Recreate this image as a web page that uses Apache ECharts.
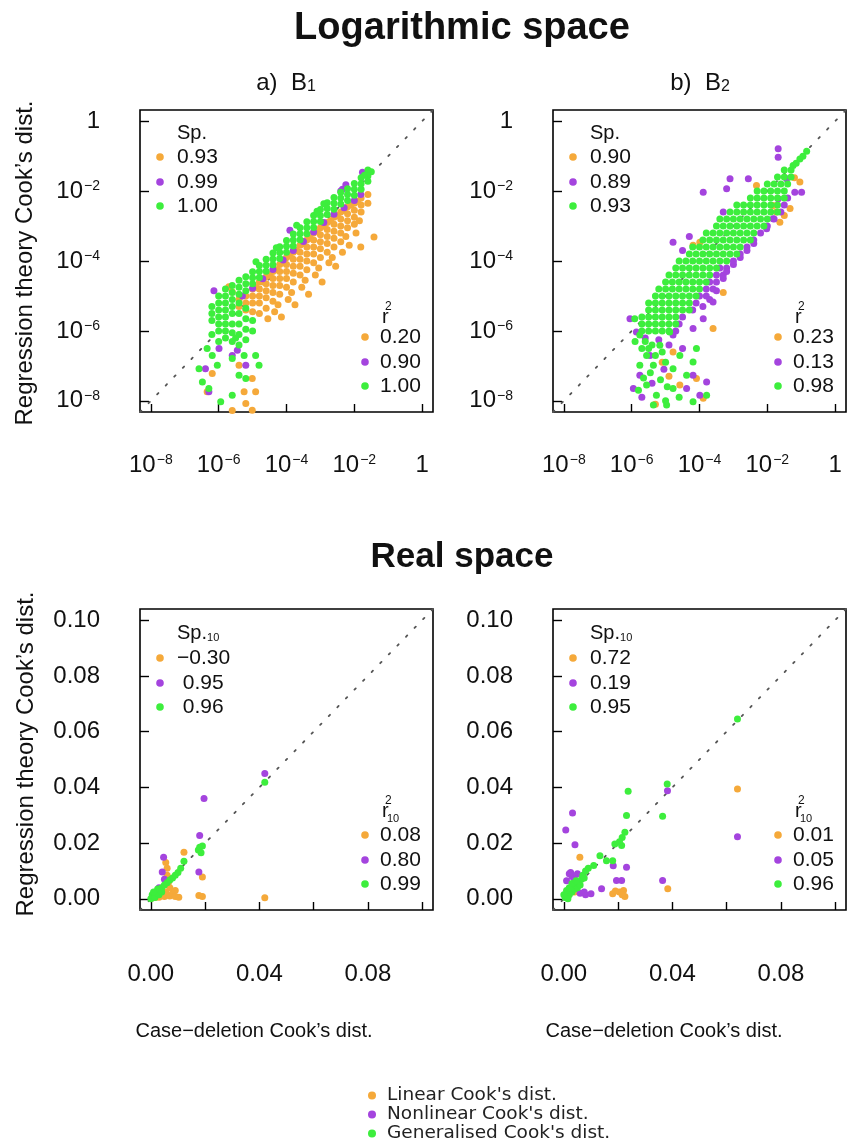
<!DOCTYPE html>
<html>
<head>
<meta charset="utf-8">
<script src="https://cdn.jsdelivr.net/npm/echarts@6/dist/echarts.min.js"></script>
<style>
html,body{margin:0;padding:0;background:#fff;}
#chart{width:849px;height:1148px;}
</style>
</head>
<body>
<div id="chart"></div>
<script>
// ---------------- DATA (log panels: log10 of Cook's distance; real panels: Cook's distance) ----------------
const seriesNames = ["Linear Cook's dist.", "Nonlinear Cook's dist.", "Generalised Cook's dist."];
const logTickValues = [-8, -6, -4, -2, 0];
const realTickValuesY = [0, 0.02, 0.04, 0.06, 0.08, 0.10];
const realTickValuesX = [0, 0.02, 0.04, 0.06, 0.08, 0.10];
const realLabelValuesX = [0, 0.04, 0.08];
const logRange = [-8.32, 0.32];
const realRange = [-0.004, 0.104];

const spB1Log = [0.93, 0.99, 1.00];
const r2B1Log = [0.20, 0.90, 1.00];
const spB2Log = [0.90, 0.89, 0.93];
const r2B2Log = [0.23, 0.13, 0.98];
const spB1Real = [-0.30, 0.95, 0.96];
const r2B1Real = [0.08, 0.80, 0.99];
const spB2Real = [0.72, 0.19, 0.95];
const r2B2Real = [0.01, 0.05, 0.96];

// Panel a) B1, logarithmic space  [case-deletion, regression theory]
const B1LogLinear = [
 [-5.4,-5.1],[-5.4,-5.3],
 [-5.2,-5.0],[-5.2,-5.2],[-5.2,-5.4],
 [-5.0,-4.8],[-5.0,-5.0],[-5.0,-5.2],[-5.0,-5.45],
 [-4.8,-4.6],[-4.8,-4.8],[-4.8,-5.0],[-4.8,-5.2],[-4.8,-5.5],
 [-4.6,-4.45],[-4.6,-4.65],[-4.6,-4.85],[-4.6,-5.05],[-4.6,-5.35],[-4.55,-5.65],
 [-4.4,-4.3],[-4.4,-4.5],[-4.4,-4.7],[-4.4,-4.9],[-4.4,-5.15],[-4.35,-5.45],
 [-4.2,-4.1],[-4.2,-4.3],[-4.2,-4.5],[-4.2,-4.7],[-4.2,-4.95],[-4.25,-5.25],[-4.15,-5.6],
 [-4.0,-3.9],[-4.0,-4.1],[-4.0,-4.3],[-4.0,-4.5],[-4.0,-4.75],[-3.95,-5.1],
 [-3.8,-3.75],[-3.8,-3.95],[-3.8,-4.15],[-3.8,-4.35],[-3.8,-4.6],[-3.85,-4.9],[-3.75,-5.25],
 [-3.6,-3.55],[-3.6,-3.75],[-3.6,-3.95],[-3.6,-4.15],[-3.6,-4.4],[-3.55,-4.75],
 [-3.4,-3.4],[-3.4,-3.6],[-3.4,-3.8],[-3.4,-4.0],[-3.4,-4.25],[-3.45,-4.55],[-3.35,-4.95],
 [-3.2,-3.2],[-3.2,-3.4],[-3.2,-3.6],[-3.2,-3.8],[-3.2,-4.05],[-3.15,-4.4],
 [-3.0,-3.05],[-3.0,-3.25],[-3.0,-3.45],[-3.0,-3.65],[-3.0,-3.9],[-3.05,-4.2],[-2.95,-4.6],
 [-2.8,-2.9],[-2.8,-3.1],[-2.8,-3.3],[-2.8,-3.5],[-2.8,-3.75],[-2.75,-4.05],
 [-2.6,-2.75],[-2.6,-2.95],[-2.6,-3.15],[-2.6,-3.35],[-2.6,-3.6],[-2.65,-3.9],[-2.55,-4.15],
 [-2.4,-2.6],[-2.4,-2.8],[-2.4,-3.0],[-2.4,-3.2],[-2.4,-3.45],[-2.35,-3.75],
 [-2.2,-2.45],[-2.2,-2.65],[-2.2,-2.85],[-2.2,-3.05],[-2.25,-3.3],[-2.15,-3.55],
 [-2.0,-2.35],[-2.0,-2.55],[-2.0,-2.75],[-2.0,-2.95],[-1.95,-3.2],
 [-1.8,-2.2],[-1.8,-2.4],[-1.8,-2.6],[-1.85,-2.85],
 [-1.6,-2.1],[-1.6,-2.35],
 [-4.9,-4.75],[-4.5,-4.4],[-4.1,-4.05],[-3.7,-3.7],[-3.3,-3.35],[-2.9,-3.0],[-2.5,-2.7],[-2.1,-2.4],
 [-4.7,-4.6],[-4.3,-4.25],[-3.9,-3.85],[-3.5,-3.5],[-3.1,-3.15],[-2.7,-2.85],[-2.3,-2.55],[-1.9,-2.3],
 [-1.42,-3.31],[-1.81,-3.60],[-5.60,-4.89],[-5.70,-4.74],
 [-5.25,-7.74],[-5.01,-8.27],[-4.91,-7.74],[-5.60,-8.28],[-5.20,-8.08],[-6.19,-7.22],[-6.34,-7.74],[-5.01,-7.36],[-5.40,-6.98]
];
const B1LogNonlinear = [
 [-2.35,-1.95],[-1.76,-1.46],[-1.81,-2.10],[-2.25,-1.82],[-2.40,-2.00],[-3.90,-3.12],
 [-2.0,-2.27],[-2.3,-2.48],[-2.6,-2.66],[-2.9,-2.9],[-3.2,-3.17],[-3.5,-3.44],[-3.8,-3.7],[-4.1,-3.97],
 [-4.4,-4.24],[-4.7,-4.51],[-5.0,-4.78],[-5.3,-5.0],
 [-6.29,-7.74],[-6.39,-7.08],[-5.99,-6.50],[-5.60,-6.70],[-5.20,-6.98],[-6.14,-4.85],[-5.45,-6.55]
];
const B1LogGeneralised = [
 [-1.5,-1.45],[-1.6,-1.4],[-1.6,-1.57],[-1.6,-1.72],
 [-1.7,-1.55],[-1.8,-1.62],[-1.8,-1.79],[-1.8,-1.95],
 [-2.0,-1.78],[-2.0,-1.95],[-2.0,-2.12],
 [-2.2,-1.93],[-2.2,-2.1],[-2.2,-2.27],
 [-2.4,-2.03],[-2.4,-2.2],[-2.4,-2.37],
 [-2.6,-2.18],[-2.6,-2.35],[-2.6,-2.52],
 [-2.8,-2.33],[-2.8,-2.5],[-2.8,-2.67],
 [-3.0,-2.53],[-3.0,-2.7],[-3.0,-2.87],
 [-3.2,-2.7],[-3.2,-2.87],[-3.2,-3.04],
 [-3.4,-2.88],[-3.4,-3.05],[-3.4,-3.22],
 [-3.6,-3.05],[-3.6,-3.22],[-3.6,-3.39],
 [-3.8,-3.23],[-3.8,-3.4],[-3.8,-3.57],
 [-4.0,-3.41],[-4.0,-3.58],[-4.0,-3.75],
 [-4.2,-3.59],[-4.2,-3.76],[-4.2,-3.93],
 [-4.4,-3.77],[-4.4,-3.94],[-4.4,-4.11],
 [-4.6,-3.95],[-4.6,-4.12],[-4.6,-4.29],
 [-4.8,-4.13],[-4.8,-4.3],[-4.8,-4.47],
 [-5.0,-4.31],[-5.0,-4.48],[-5.0,-4.65],
 [-5.2,-4.45],[-5.2,-4.65],[-5.2,-4.85],
 [-5.4,-4.55],[-5.4,-4.75],[-5.4,-4.95],[-5.4,-5.2],
 [-3.7,-2.98],[-4.9,-4.02],[-2.9,-2.36],[-4.3,-3.62],[-3.1,-2.58],
 [-5.6,-4.7],[-5.6,-4.9],[-5.6,-5.1],[-5.6,-5.3],[-5.6,-5.5],[-5.6,-5.8],[-5.6,-6.05],[-5.6,-6.3],
 [-5.8,-4.8],[-5.8,-5.0],[-5.8,-5.2],[-5.8,-5.4],[-5.8,-5.6],[-5.8,-5.8],[-5.8,-6.0],[-5.8,-6.2],
 [-6.0,-5.0],[-6.0,-5.2],[-6.0,-5.4],[-6.0,-5.6],[-6.0,-5.8],[-6.0,-6.0],[-6.0,-6.3],
 [-6.2,-5.3],[-6.2,-5.5],[-6.2,-5.7],[-6.2,-6.1],
 [-5.4,-5.5],[-5.4,-5.8],[-5.4,-6.1],[-5.2,-5.35],[-5.2,-5.65],[-5.2,-5.95],[-5.0,-5.7],[-5.0,-6.0],[-5.5,-6.2],
 [-6.58,-7.08],[-6.29,-7.65],[-6.48,-7.46],[-6.19,-6.70],[-6.04,-6.98],[-5.40,-7.27],[-5.20,-7.36],[-4.91,-6.70],
 [-4.81,-6.98],[-5.60,-7.84],[-5.94,-8.03],[-5.25,-6.70],[-5.60,-6.79],[-6.34,-6.50],[-5.40,-6.40],[-5.20,-6.25]
];

// Panel b) B2, logarithmic space
const B2LogLinear = [
 [-1.73,-2.60],[-1.63,-2.89],[-1.33,-2.50],[-1.50,-2.70],[-1.04,-1.74],[-1.20,-1.62],[-2.32,-1.84],[-1.83,-2.41],
 [-4.19,-3.55],[-3.99,-3.46],[-4.78,-6.60],[-4.58,-7.55],[-4.09,-7.36],[-3.89,-7.93],[-3.60,-5.93],[-3.30,-4.90],
 [-5.10,-6.90],[-4.90,-7.30],[-5.30,-8.10]
];
const B2LogNonlinear = [
 [-1.40,-2.20],[-1.50,-2.40],[-1.60,-2.60],[-1.80,-2.80],[-2.00,-3.00],[-2.20,-3.20],[-2.40,-3.40],[-2.60,-3.60],
 [-2.80,-3.80],[-3.00,-4.00],[-3.40,-4.20],[-3.20,-4.20],[-3.50,-4.40],[-3.30,-4.40],[-3.70,-4.60],[-3.50,-4.60],
 [-3.80,-4.80],[-3.60,-4.80],[-4.00,-5.00],[-3.80,-5.00],[-4.10,-5.20],[-4.20,-5.40],[-4.50,-5.60],[-4.60,-5.80],[-4.70,-6.00],
 [-3.30,-4.50],[-3.20,-4.30],[-3.00,-4.10],[-2.80,-3.90],[-3.50,-4.85],[-3.70,-5.10],[-3.90,-5.30],[-2.60,-3.70],[-2.40,-3.50],
 [-4.30,-3.30],[-4.50,-3.70],
 [-1.68,-0.79],[-1.68,-1.03],[-2.56,-1.65],[-3.10,-1.65],[-3.20,-1.93],[-3.89,-2.03],[-3.30,-2.60],[-1.43,-1.65],
 [-1.19,-2.03],[-0.99,-2.03],[-1.68,-2.22],[-2.02,-3.08],[-1.83,-2.79],[-4.78,-3.46],
 [-5.95,-7.65],[-5.76,-7.27],[-5.46,-6.70],[-4.78,-6.12],[-4.19,-5.93],[-3.89,-5.65],[-3.60,-5.17],[-4.38,-7.65],
 [-3.99,-7.84],[-3.79,-7.46],[-4.19,-7.27],[-5.86,-6.03],[-6.05,-5.65],
 [-5.60,-6.20],[-5.20,-6.25],[-4.90,-6.40],[-5.40,-7.50],[-5.05,-7.10],[-5.70,-7.90],[-4.50,-6.50]
];
const B2LogGeneralised = [
 [-0.84,-0.86],[-1.04,-1.08],[-1.24,-1.27],[-1.15,-1.20],[-0.95,-1.00],
 [-1.50,-1.40],[-1.30,-1.40],
 [-1.70,-1.60],[-1.50,-1.60],[-1.30,-1.60],
 [-2.00,-1.80],[-1.80,-1.80],[-1.60,-1.80],[-1.40,-1.80],
 [-2.30,-2.00],[-2.10,-2.00],[-1.90,-2.00],[-1.70,-2.00],[-1.50,-2.00],
 [-2.50,-2.20],[-2.30,-2.20],[-2.10,-2.20],[-1.90,-2.20],[-1.70,-2.20],[-1.50,-2.20],
 [-2.90,-2.40],[-2.70,-2.40],[-2.50,-2.40],[-2.30,-2.40],[-2.10,-2.40],[-1.90,-2.40],[-1.70,-2.40],
 [-3.10,-2.60],[-2.90,-2.60],[-2.70,-2.60],[-2.50,-2.60],[-2.30,-2.60],[-2.10,-2.60],[-1.90,-2.60],[-1.70,-2.60],
 [-3.40,-2.80],[-3.20,-2.80],[-3.00,-2.80],[-2.80,-2.80],[-2.60,-2.80],[-2.40,-2.80],[-2.20,-2.80],[-2.00,-2.80],
 [-3.50,-3.00],[-3.30,-3.00],[-3.10,-3.00],[-2.90,-3.00],[-2.70,-3.00],[-2.50,-3.00],[-2.30,-3.00],[-2.10,-3.00],
 [-3.80,-3.20],[-3.60,-3.20],[-3.40,-3.20],[-3.20,-3.20],[-3.00,-3.20],[-2.80,-3.20],[-2.60,-3.20],[-2.40,-3.20],
 [-3.90,-3.40],[-3.70,-3.40],[-3.50,-3.40],[-3.30,-3.40],[-3.10,-3.40],[-2.90,-3.40],[-2.70,-3.40],[-2.50,-3.40],
 [-4.20,-3.60],[-4.00,-3.60],[-3.80,-3.60],[-3.60,-3.60],[-3.40,-3.60],[-3.20,-3.60],[-3.00,-3.60],[-2.80,-3.60],
 [-4.30,-3.80],[-4.10,-3.80],[-3.90,-3.80],[-3.70,-3.80],[-3.50,-3.80],[-3.30,-3.80],[-3.10,-3.80],[-2.90,-3.80],
 [-4.60,-4.00],[-4.40,-4.00],[-4.20,-4.00],[-4.00,-4.00],[-3.80,-4.00],[-3.60,-4.00],[-3.40,-4.00],[-3.20,-4.00],
 [-4.70,-4.20],[-4.50,-4.20],[-4.30,-4.20],[-4.10,-4.20],[-3.90,-4.20],[-3.70,-4.20],[-3.50,-4.20],
 [-4.90,-4.40],[-4.70,-4.40],[-4.50,-4.40],[-4.30,-4.40],[-4.10,-4.40],[-3.90,-4.40],[-3.70,-4.40],
 [-5.00,-4.60],[-4.80,-4.60],[-4.60,-4.60],[-4.40,-4.60],[-4.20,-4.60],[-4.00,-4.60],[-3.80,-4.60],
 [-5.20,-4.80],[-5.00,-4.80],[-4.80,-4.80],[-4.60,-4.80],[-4.40,-4.80],[-4.20,-4.80],[-4.00,-4.80],
 [-5.30,-5.00],[-5.10,-5.00],[-4.90,-5.00],[-4.70,-5.00],[-4.50,-5.00],[-4.30,-5.00],[-4.10,-5.00],
 [-5.50,-5.20],[-5.30,-5.20],[-5.10,-5.20],[-4.90,-5.20],[-4.70,-5.20],[-4.50,-5.20],[-4.30,-5.20],
 [-5.50,-5.40],[-5.30,-5.40],[-5.10,-5.40],[-4.90,-5.40],[-4.70,-5.40],[-4.50,-5.40],[-4.30,-5.40],
 [-5.70,-5.60],[-5.50,-5.60],[-5.30,-5.60],[-5.10,-5.60],[-4.90,-5.60],[-4.70,-5.60],
 [-5.70,-5.80],[-5.50,-5.80],[-5.30,-5.80],[-5.10,-5.80],[-4.90,-5.80],[-4.70,-5.80],
 [-5.70,-6.00],[-5.50,-6.00],[-5.30,-6.00],[-5.10,-6.00],[-4.90,-6.00],
 [-5.76,-6.12],[-5.91,-5.65],[-5.56,-6.70],[-5.76,-6.98],[-5.36,-6.98],[-5.56,-7.55],[-5.27,-7.84],[-5.36,-8.12],
 [-4.97,-8.12],[-4.78,-7.08],[-4.38,-7.27],[-4.19,-6.89],[-4.09,-6.50],[-4.58,-6.70],[-5.17,-6.41],[-4.88,-6.03],
 [-4.19,-8.03],[-3.79,-7.84],[-4.78,-7.65],[-5.40,-6.40],[-5.60,-6.30],[-5.00,-6.90],
 [-5.50,-6.50],[-5.30,-6.70],[-5.10,-6.60],[-5.70,-6.50],[-5.90,-6.30],[-5.45,-7.20],[-5.15,-7.40],[-4.95,-7.60],
 [-5.65,-7.35],[-5.00,-8.00],[-4.60,-7.90],[-5.80,-7.70]
];

// Panel c) B1, real space
const B1RealLinear = [
 [0.0005,0.0003],[0.0010,0.0008],[0.0015,0.0005],[0.0020,0.0010],[0.0030,0.0006],[0.0040,0.0012],[0.0050,0.0008],
 [0.0060,0.0015],[0.0070,0.0010],[0.0080,0.0020],[0.0035,0.0020],[0.0055,0.0025],[0.0090,0.0008],
 [0.0103,0.0006],[0.0177,0.0012],[0.0190,0.0008],[0.0420,0.0004],[0.0122,0.0167],[0.0190,0.0078],
 [0.0055,0.0130],[0.0060,0.0110],[0.0060,0.0085],[0.0065,0.0060],[0.0070,0.0040],[0.0090,0.0030]
];
const B1RealNonlinear = [
 [0.0420,0.0450],[0.0196,0.0360],[0.0180,0.0227],[0.0177,0.0096],[0.0047,0.0149],[0.0042,0.0096],
 [0.0050,0.0070],[0.0030,0.0040],[0.0020,0.0020],[0.0010,0.0010],[0.0005,0.0005]
];
const B1RealGeneralised = [
 [0.0420,0.0418],[0.0180,0.0185],[0.0175,0.0175],[0.0190,0.0190],[0.0185,0.0165],
 [0.0000,0.0000],[0.0010,0.0012],[0.0020,0.0020],[0.0030,0.0030],[0.0040,0.0040],[0.0050,0.0050],
 [0.0060,0.0058],[0.0070,0.0068],[0.0080,0.0075],[0.0090,0.0085],[0.0100,0.0095],[0.0110,0.0110],[0.0122,0.0135],
 [0.0005,0.0015],[0.0015,0.0005],[0.0030,0.0015],[0.0025,0.0035],[0.0010,0.0025],[0.0040,0.0025]
];

// Panel d) B2, real space
const B2RealLinear = [
 [0.0640,0.0394],[0.0383,0.0036],[0.0059,0.0149],[0.0180,0.0018],[0.0205,0.0025],[0.0220,0.0030],
 [0.0225,0.0008],[0.0215,0.0015],[0.0190,0.0028],[0.0020,0.0020],[0.0030,0.0040],[0.0040,0.0025]
];
const B2RealNonlinear = [
 [0.0640,0.0223],[0.0382,0.0388],[0.0364,0.0066],[0.0231,0.0113],[0.0182,0.0119],[0.0194,0.0066],[0.0213,0.0066],
 [0.0032,0.0308],[0.0007,0.0247],[0.0041,0.0194],[0.0139,0.0036],[0.0100,0.0018],[0.0080,0.0015],[0.0060,0.0020],
 [0.0020,0.0090],[0.0030,0.0080],[0.0040,0.0070],[0.0050,0.0090],[0.0025,0.0095],[0.0010,0.0065],[0.0075,0.0025]
];
const B2RealGeneralised = [
 [0.0640,0.0645],[0.0381,0.0412],[0.0364,0.0296],[0.0237,0.0386],[0.0231,0.0299],[0.0225,0.0239],[0.0215,0.0220],
 [0.0188,0.0197],[0.0213,0.0191],[0.0205,0.0205],[0.0180,0.0137],[0.0133,0.0155],[0.0157,0.0137],[0.0110,0.0120],[0.0090,0.0110],
 [0.0005,0.0005],[0.0010,0.0010],[0.0015,0.0020],[0.0020,0.0015],[0.0025,0.0030],[0.0030,0.0025],[0.0035,0.0040],
 [0.0040,0.0035],[0.0045,0.0050],[0.0050,0.0040],[0.0055,0.0060],[0.0060,0.0050],[0.0065,0.0070],[0.0070,0.0085],
 [0.0075,0.0075],[0.0010,0.0030],[0.0020,0.0040],[0.0030,0.0055],[0.0045,0.0065],[0.0000,0.0015],[0.0015,0.0000],[0.0080,0.0100]
];

// ---------------- STYLE / LAYOUT ----------------
const COLORS = ['#F5A93A', '#A444DE', '#3DEE3D'];
const FONT = "'Liberation Sans', Arial, Helvetica, sans-serif";
const INK = '#111';

const panels = [
  {left:140, top:110, w:293, h:302, kind:'log', data:[B1LogLinear,B1LogNonlinear,B1LogGeneralised], sp:spB1Log, r2:r2B1Log},
  {left:553, top:110, w:293, h:302, kind:'log', data:[B2LogLinear,B2LogNonlinear,B2LogGeneralised], sp:spB2Log, r2:r2B2Log},
  {left:140, top:609, w:293, h:301, kind:'real', data:[B1RealLinear,B1RealNonlinear,B1RealGeneralised], sp:spB1Real, r2:r2B1Real},
  {left:553, top:609, w:293, h:301, kind:'real', data:[B2RealLinear,B2RealNonlinear,B2RealGeneralised], sp:spB2Real, r2:r2B2Real}
];

const tickRich = {
  n:{fontSize:24, fontFamily:FONT, color:INK},
  s:{fontSize:14, fontFamily:FONT, color:INK, verticalAlign:'top', padding:[0,0,0,1]}
};
function fmtLog(v){
  const e = Math.round(v);
  if (e === 0) return '{n|1}';
  return '{n|10}{s|\u2212' + Math.abs(e) + '}';
}
function fmtReal(v){ return '{n|' + v.toFixed(2) + '}'; }

const grids = [], xAxes = [], yAxes = [], series = [], graphics = [];

panels.forEach((p, i) => {
  grids.push({left:p.left, top:p.top, width:p.w, height:p.h, show:true, borderColor:'#000', borderWidth:1.6,
    backgroundColor:'transparent', containLabel:false, outerBoundsMode:'none'});
  const isLog = p.kind === 'log';
  const range = isLog ? logRange : realRange;
  const tickX = isLog ? logTickValues : realTickValuesX;
  const labX = isLog ? logTickValues : realLabelValuesX;
  const tickY = isLog ? logTickValues : realTickValuesY;
  const fmt = isLog ? fmtLog : fmtReal;
  const common = {type:'value', gridIndex:i, min:range[0], max:range[1], scale:true,
    axisLine:{show:false, onZero:false}, splitLine:{show:false}, minorTick:{show:false}};
  xAxes.push(Object.assign({}, common, {
    axisTick:{show:true, inside:true, length:8, lineStyle:{color:'#000', width:1.4}, customValues:tickX},
    axisLabel:{show:true, customValues:labX, formatter:fmt, rich:tickRich, margin:isLog ? 41 : 52, color:INK, fontSize:24, fontFamily:FONT}
  }));
  yAxes.push(Object.assign({}, common, {
    axisTick:{show:true, inside:true, length:9, lineStyle:{color:'#000', width:1.4}, customValues:tickY},
    axisLabel:{show:true, customValues:tickY, formatter:fmt, rich:tickRich, margin:40, color:INK, fontSize:24, fontFamily:FONT}
  }));
  series.push({type:'line', name:'identity', xAxisIndex:i, yAxisIndex:i, silent:true, symbol:'none', z:1,
    data:[[range[0],range[0]],[range[1],range[1]]],
    lineStyle:{color:'#555', width:1.8, type:[1.8, 10.5], cap:'round'}});
  p.data.forEach((d, k) => {
    series.push({type:'scatter', name:seriesNames[k], xAxisIndex:i, yAxisIndex:i, data:d, symbol:'circle',
      symbolSize:7, itemStyle:{color:COLORS[k], opacity:1}, z:2 + k, clip:true});
  });

  // in-panel statistics legends
  const gx = p.left, gy = p.top, gr = p.left + p.w, gb = p.top + p.h;
  const txt = (x, y, text, size, extra) => Object.assign({type:'text', x:x, y:y, silent:true,
    style:{text:text, fontSize:size, fontFamily:FONT, fill:INK, align:'left', textAlign:'left', verticalAlign:'middle', textVerticalAlign:'middle'}}, extra || {});
  if (isLog) {
    graphics.push(txt(gx + 37, gy + 23, 'Sp.', 20));
  } else {
    graphics.push({type:'text', x:gx + 37, y:gy + 24, silent:true,
      style:{text:'{a|Sp.}{s|10}', align:'left', verticalAlign:'middle', fill:INK,
        rich:{a:{fontSize:20, fontFamily:FONT, fill:INK, color:INK}, s:{fontSize:11, fontFamily:FONT, fill:INK, color:INK, verticalAlign:'bottom'}}}});
  }
  const anyNeg = p.sp.some(v => v < 0);
  const spRows = isLog ? [47, 72, 96] : [49, 74, 98];
  p.sp.forEach((v, k) => {
    graphics.push({type:'circle', silent:true, shape:{cx:gx + 20, cy:gy + spRows[k], r:3.8}, style:{fill:COLORS[k]}});
    const s = (v < 0 ? '\u2212' : (anyNeg ? ' ' : '')) + Math.abs(v).toFixed(2);
    graphics.push(txt(gx + 37, gy + spRows[k], s, 21));
  });
  const hx = gr - 51, hy = isLog ? gb - 95 : gb - 99;
  graphics.push(txt(hx, hy, 'r', 20));
  graphics.push(txt(hx + 3, hy - 10, '2', 12));
  if (!isLog) graphics.push(txt(hx + 5, hy + 8, '10', 11));
  const rRows = [75, 50, 26];
  p.r2.forEach((v, k) => {
    graphics.push({type:'circle', silent:true, shape:{cx:gr - 68, cy:gb - rRows[k], r:3.8}, style:{fill:COLORS[k]}});
    graphics.push(txt(gr - 53, gb - rRows[k], v.toFixed(2), 21));
  });
});

// titles & axis titles
const ctext = (x, y, text, size, weight, extra) => Object.assign({type:'text', x:x, y:y, silent:true,
  style:{text:text, fontSize:size, fontWeight:weight || 'normal', fontFamily:FONT, fill:INK,
    align:'center', textAlign:'center', verticalAlign:'middle', textVerticalAlign:'middle'}}, extra || {});
graphics.push(ctext(462, 29, 'Logarithmic space', 38, 'bold'));
graphics.push(ctext(462, 557, 'Real space', 35, 'bold'));
const subRich = {a:{fontSize:24, fontFamily:FONT, fill:INK, color:INK}, s:{fontSize:16, fontFamily:FONT, fill:INK, color:INK, verticalAlign:'bottom'}};
graphics.push({type:'text', x:286, y:83, silent:true, style:{text:'{a|a)  B}{s|1}', rich:subRich, align:'center', verticalAlign:'middle', fill:INK}});
graphics.push({type:'text', x:700, y:83, silent:true, style:{text:'{a|b)  B}{s|2}', rich:subRich, align:'center', verticalAlign:'middle', fill:INK}});
graphics.push(ctext(25, 263, 'Regression theory Cook\u2019s dist.', 24, 'normal', {rotation:Math.PI/2}));
graphics.push(ctext(26, 754, 'Regression theory Cook\u2019s dist.', 24, 'normal', {rotation:Math.PI/2}));
graphics.push(ctext(254, 1031, 'Case\u2212deletion Cook\u2019s dist.', 20));
graphics.push(ctext(664, 1031, 'Case\u2212deletion Cook\u2019s dist.', 20));

const option = {
  animation:false,
  backgroundColor:'#fff',
  grid:grids, xAxis:xAxes, yAxis:yAxes, series:series,
  legend:{data:seriesNames, orient:'vertical', left:363, top:1081, icon:'circle', itemWidth:20, itemHeight:8, itemGap:0,
    selectedMode:false, textStyle:{fontSize:18.5, fontFamily:"'DejaVu Sans', 'Open Sans', sans-serif", color:'#222', lineHeight:18}},
  graphic:graphics
};
const chart = echarts.init(document.getElementById('chart'), null, {renderer:'canvas'});
chart.setOption(option);
</script>
</body>
</html>
